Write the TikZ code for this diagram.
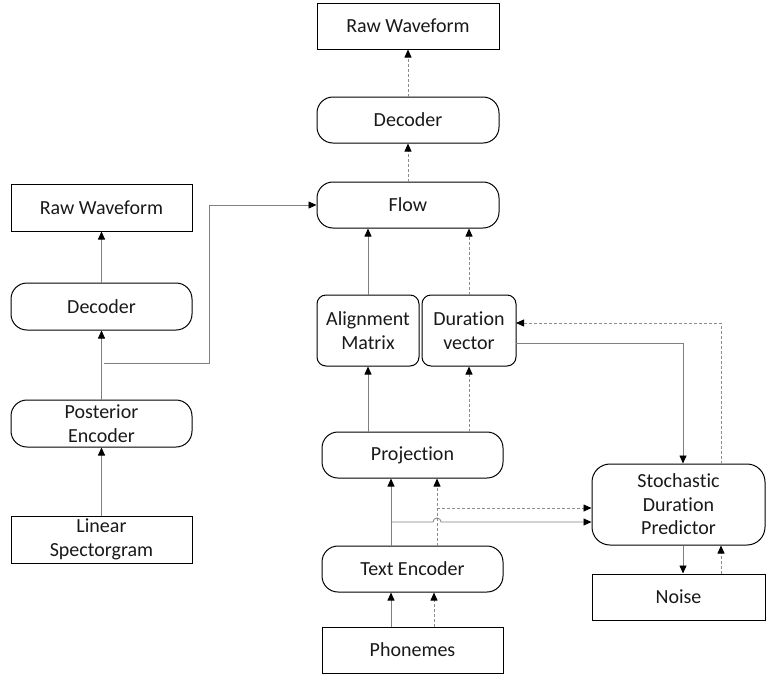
\documentclass[tikz,border=0pt]{standalone}
\usepackage{fontspec}
\setmainfont{Carlito}[Ligatures=NoCommon]
\usetikzlibrary{arrows.meta,calc}
\begin{document}
\begin{tikzpicture}[x=1pt,y=-1pt,
  every node/.style={font=\fontsize{20}{23.5}\selectfont, inner sep=0pt, align=center, text=black!90},
  sqbox/.style={draw=black, line width=1pt, rectangle},
  rbox/.style={draw=black, line width=1pt, rectangle, rounded corners=16pt},
  rsbox/.style={draw=black, line width=1pt, rectangle, rounded corners=9pt},
  tip/.style={-{Triangle[width=7pt,length=8pt,color=black]}},
  sline/.style={draw=black!50, line width=0.8pt, tip},
  dline/.style={draw=black!45, line width=0.8pt, dash pattern=on 3pt off 2pt, tip},
  plain/.style={draw=black!50, line width=0.8pt},
  dplain/.style={draw=black!45, line width=0.8pt, dash pattern=on 3pt off 2pt}]
\useasboundingbox (0,0) rectangle (766,675);
% right column
\node[sqbox, minimum width=182pt, minimum height=46pt] (rw1) at (408,26) {Raw Waveform};
\node[rbox, minimum width=182pt, minimum height=46pt] (dec1) at (408,120) {Decoder};
\node[rbox, minimum width=182pt, minimum height=46pt] (flow) at (408,205) {Flow};
\node[rsbox, minimum width=102pt, minimum height=71pt] (align) at (368,330.5) {Alignment\\Matrix};
\node[rsbox, minimum width=94pt, minimum height=71pt] (dur) at (469,330.5) {Duration\\vector};
\node[rbox, minimum width=181pt, minimum height=46pt] (proj) at (412.5,455) {Projection};
\node[rbox, minimum width=181pt, minimum height=46pt] (tenc) at (412.5,569) {Text Encoder};
\node[sqbox, minimum width=181pt, minimum height=46pt] (phon) at (412.5,650) {Phonemes};
\node[draw=black, line width=1pt, rounded corners=18pt, minimum width=173pt, minimum height=81pt] (sdp) at (678.5,504.5) {Stochastic\\Duration\\Predictor};
\node[sqbox, minimum width=173pt, minimum height=46pt] (noise) at (678.5,597) {Noise};
% left column
\node[sqbox, minimum width=181pt, minimum height=47pt] (rw2) at (101.5,207.5) {Raw Waveform};
\node[rbox, minimum width=181pt, minimum height=47pt] (dec2) at (101.5,306.5) {Decoder};
\node[rbox, minimum width=181pt, minimum height=47pt] (post) at (101.5,423.5) {Posterior\\Encoder};
\node[sqbox, minimum width=181pt, minimum height=47pt] (lin) at (101.5,539.5) {Linear\\Spectorgram};
% helper coordinates
\coordinate (xa) at (391,0);
\coordinate (xb) at (434,0);
\coordinate (xc) at (437,0);
\coordinate (b1) at (391,522);
\coordinate (b2) at (437,508);
\coordinate (lc) at (209,363);
\coordinate (ld) at (209,205);
\coordinate (ds) at (516,343);
\coordinate (dd) at (516,323);
\coordinate (sc) at (683,343);
\coordinate (sd) at (721,323);
\coordinate (xs) at (683,0);
\coordinate (xd) at (721,0);
% right column connectors
\draw[dline] (dec1.north) -- (rw1.south);
\draw[dline] (flow.north) -- (dec1.south);
\draw[sline] (align.north) -- (align.north |- flow.south);
\draw[dline] (dur.north) -- (dur.north |- flow.south);
\draw[sline] (align.south |- proj.north) -- (align.south);
\draw[dline] (dur.south |- proj.north) -- (dur.south);
\draw[sline] (tenc.north -| xa) -- (proj.south -| xa);
\draw[dline] (tenc.north -| xc) -- (proj.south -| xc);
\draw[sline] (phon.north -| xa) -- (tenc.south -| xa);
\draw[dline] (phon.north -| xb) -- (tenc.south -| xb);
\draw[dline] (b2) -- (b2 -| sdp.west);
\draw[sline] (b1) -- (433,522) arc[start angle=180, end angle=0, radius=4pt] -- (b1 -| sdp.west);
\draw[sline] (ds) -- (sc) -- (sdp.north -| xs);
\draw[dline] (sdp.north -| xd) -- (sd) -- (dd);
\draw[sline] (sdp.south -| xs) -- (noise.north -| xs);
\draw[dline] (noise.north -| xd) -- (sdp.south -| xd);
% left column connectors
\draw[sline] (lin.north) -- (post.south);
\draw[sline] (post.north) -- (dec2.south);
\draw[sline] (dec2.north) -- (rw2.south);
\draw[sline] (104,363) -- (lc) -- (ld) -- (flow.west);
\end{tikzpicture}
\end{document}
